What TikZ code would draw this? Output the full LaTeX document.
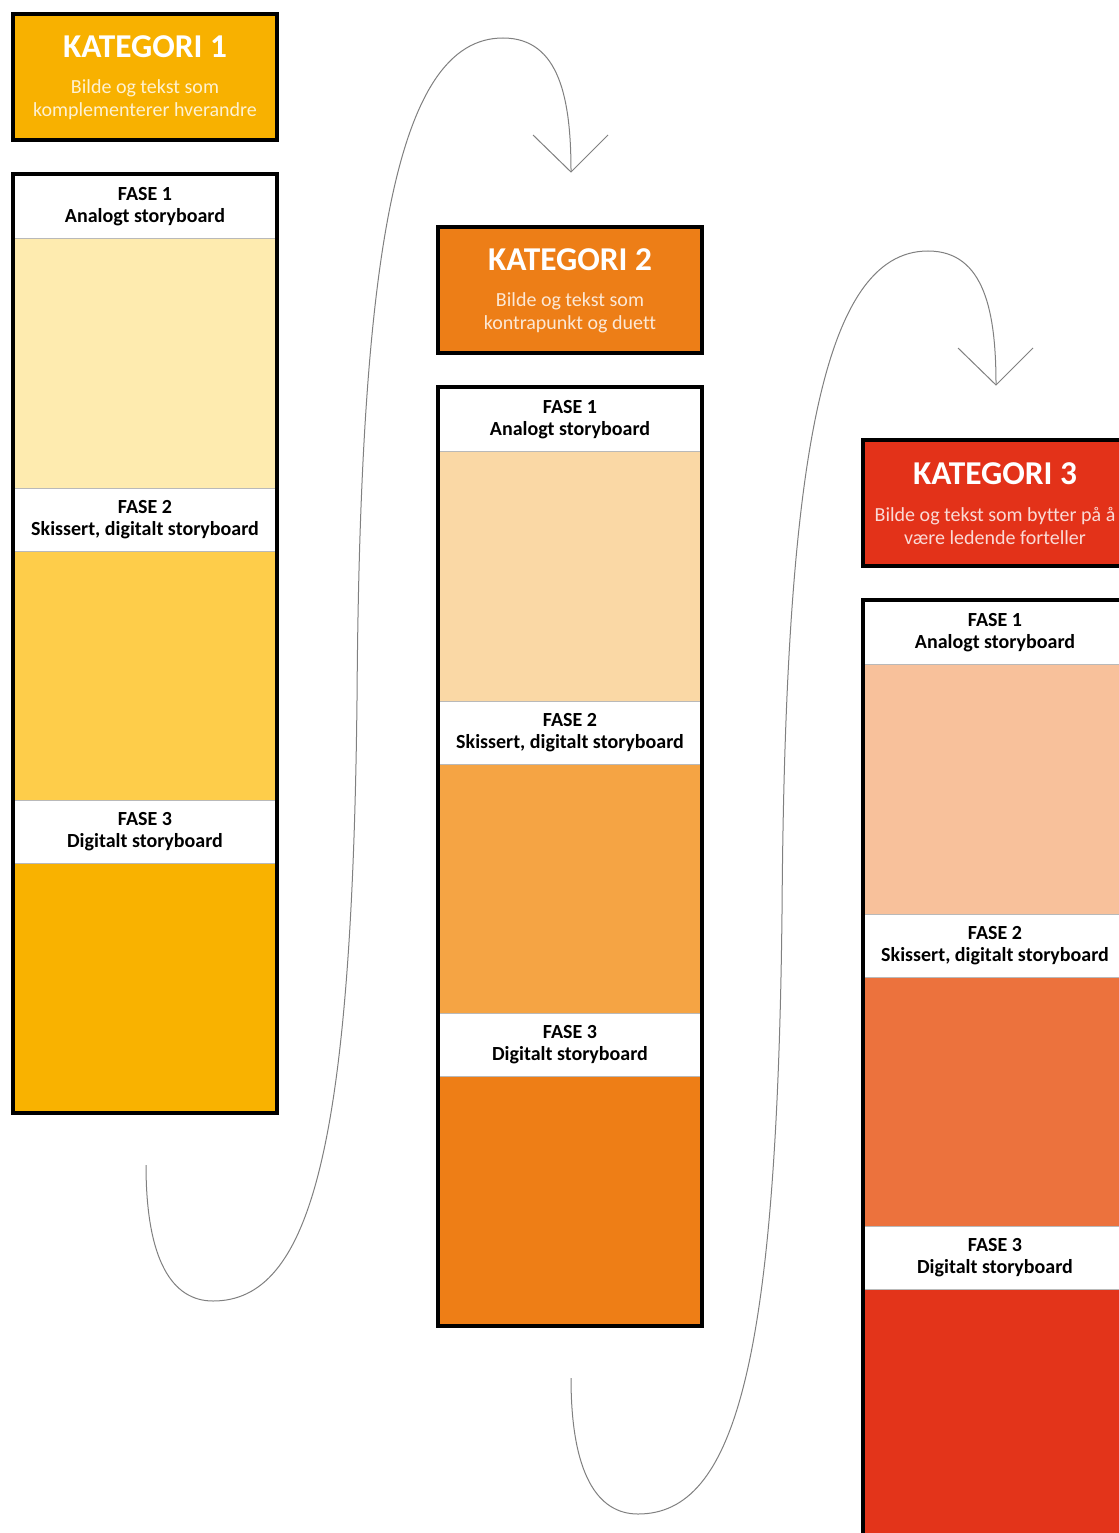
\documentclass[tikz,border=0pt]{standalone}
\usepackage{fontspec}
\setmainfont[Ligatures=NoCommon]{Carlito}
\definecolor{hA}{HTML}{F8B100}
\definecolor{aA}{HTML}{FEEBAF}
\definecolor{bA}{HTML}{FECD4A}
\definecolor{cA}{HTML}{F9B200}
\definecolor{hB}{HTML}{ED7E17}
\definecolor{aB}{HTML}{FAD8A5}
\definecolor{bB}{HTML}{F5A444}
\definecolor{cB}{HTML}{EE7E16}
\definecolor{hC}{HTML}{E33219}
\definecolor{aC}{HTML}{F8C19B}
\definecolor{bC}{HTML}{EC723D}
\definecolor{cC}{HTML}{E3341A}
\definecolor{flowgray}{HTML}{808080}
\begin{document}
\begin{tikzpicture}[x=0.75pt,y=-0.75pt,
  catbox/.style={draw=black,line width=3pt,minimum width=198pt,minimum height=94.5pt,inner sep=0pt},
  cattitle/.style={text=white,font=\fontsize{25}{30}\selectfont\bfseries,inner sep=0pt,anchor=base},
  catsub/.style={font=\fontsize{15}{17.25}\selectfont,align=center,inner sep=0pt},
  fillbox/.style={draw=gray!55,line width=0.6pt,minimum width=196.5pt,inner sep=0pt},
  phasetext/.style={font=\fontsize{15}{16.5}\selectfont\bfseries,align=center,inner sep=0pt},
  stagebox/.style={draw=black,line width=3pt,minimum width=198pt,minimum height=704.25pt,inner sep=0pt},
  flow/.style={draw=flowgray,line width=0.75pt}
]
\path[use as bounding box] (0,0) rectangle (1119,1533);
\clip (0,0) rectangle (1119,1533);
\fill[white] (0,0) rectangle (1119,1533);

\foreach \i/\dx/\dy/\ha/\fa/\fb/\fc/\sub in {
  1/0/0/hA/aA/bA/cA/{Bilde og tekst som\\komplementerer hverandre},
  2/425/213/hB/aB/bB/cB/{Bilde og tekst som\\kontrapunkt og duett},
  3/850/426/hC/aC/bC/cC/{Bilde og tekst som bytter på å\\være ledende forteller}}{
  \begin{scope}[shift={(\dx,\dy)}]
    % category box
    \node[catbox,fill=\ha] (k\i) at (145,77) {};
    \node[cattitle] (kt\i) at (145,58) {KATEGORI \i};
    \node[catsub,text=white!82!\ha] (ks\i) at (145,100) {\sub};
    % phase fills
    \node[fillbox,fill=\fa,minimum height=187.5pt] (fa\i) at (145,363) {};
    \node[fillbox,fill=\fb,minimum height=186.75pt] (fb\i) at (145,675.5) {};
    \node[fillbox,fill=\fc,minimum height=186.75pt] (fc\i) at (145,987.5) {};
    % phase headers
    \node[phasetext] (pa\i) at (145,207) {FASE 1\\Analogt storyboard};
    \node[phasetext] (pb\i) at (145,519.5) {FASE 2\\Skissert, digitalt storyboard};
    \node[phasetext] (pc\i) at (145,831.5) {FASE 3\\Digitalt storyboard};
    % stage frame
    \node[stagebox] (s\i) at (145,643.5) {};
  \end{scope}
}

\foreach \i/\dx/\dy in {1/0/0,2/425/213}{
  \begin{scope}[shift={(\dx,\dy)}]
    \coordinate (cs\i) at (146,1165);
    \coordinate (ct\i) at (571,172);
    \coordinate (cl\i) at (533,135);
    \coordinate (cr\i) at (608,135);
    \draw[flow] (cs\i) .. controls (146,1260) and (172,1301) .. (213,1301)
      .. controls (310,1301) and (352,1150) .. (357,700)
      .. controls (360,260) and (395,38) .. (503,38)
      .. controls (560,38) and (571,100) .. (ct\i);
    \draw[flow] (cl\i) -- (ct\i) -- (cr\i);
  \end{scope}
}
\end{tikzpicture}
\end{document}
